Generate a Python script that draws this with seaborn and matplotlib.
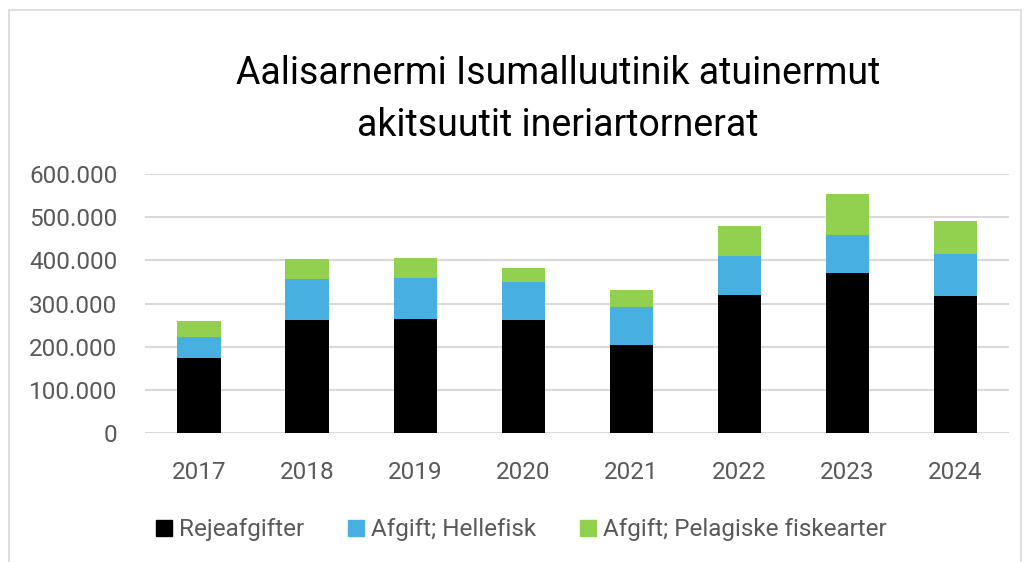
import matplotlib
matplotlib.use("Agg")
import matplotlib.pyplot as plt
import matplotlib.patches as mpatches
from matplotlib.ticker import FuncFormatter
import seaborn as sns
import pandas as pd
import numpy as np

years = ["2017", "2018", "2019", "2020", "2021", "2022", "2023", "2024"]
rejeafgifter = [175000, 263000, 264000, 261000, 204000, 319000, 370000, 318000]
hellefisk = [48000, 94000, 96000, 90000, 88000, 92000, 88000, 98000]
pelagiske = [36000, 47000, 45000, 31000, 40000, 69000, 95000, 75000]
series_names = ["Rejeafgifter", "Afgift; Hellefisk", "Afgift; Pelagiske fiskearter"]
colors = ["#000000", "#48B0E0", "#92D050"]
title = "Aalisarnermi Isumalluutinik atuinermut\nakitsuutit ineriartornerat"

sns.set_style("white")
plt.rcParams["font.family"] = ["Roboto", "DejaVu Sans"]
text_color = "#595959"

fig = plt.figure(figsize=(10.28, 5.62), dpi=100)
ax = fig.add_axes([0.141, 0.2295, 0.841, 0.4605])

df = pd.DataFrame({"year": years, "s1": rejeafgifter, "s2": hellefisk, "s3": pelagiske})
bottom = np.zeros(len(years))
for col, name, c in zip(["s1", "s2", "s3"], series_names, colors):
    sns.barplot(data=df, x="year", y=col, order=years, color=c, bottom=bottom,
                width=0.4, ax=ax, saturation=1, edgecolor="none", linewidth=0, zorder=3)
    bottom = bottom + df[col].values

ax.set_ylim(0, 600000)
ax.set_xlim(-0.5, len(years) - 0.5)
ax.set_yticks(np.arange(0, 600001, 100000))
ax.yaxis.set_major_formatter(FuncFormatter(lambda v, p: f"{int(v):,}".replace(",", ".")))
ax.grid(axis="y", color="#D9D9D9", linewidth=1.5, zorder=0)
ax.set_axisbelow(True)
for s in ax.spines.values():
    s.set_visible(False)
ax.set_xlabel("")
ax.set_ylabel("")
ax.tick_params(axis="both", length=0, labelsize=17.5, labelcolor=text_color, colors=text_color)
ax.tick_params(axis="y", pad=20)
ax.tick_params(axis="x", pad=20)

fig.text(0.543, 0.823, title, ha="center", va="center", fontsize=27, color="#000000",
         linespacing=1.52)

handles = [mpatches.Patch(color=c, label=n) for n, c in zip(series_names, colors)]
leg = fig.legend(handles=handles, loc="center left", bbox_to_anchor=(0.1518, 0.057), ncol=3,
                 frameon=False, fontsize=17.5, handlelength=0.65, handleheight=0.62,
                 handletextpad=0.3, columnspacing=1.8, borderpad=0, borderaxespad=0)
for t in leg.get_texts():
    t.set_color(text_color)

border = mpatches.Rectangle((9 / 1028, -0.05), 1012 / 1028, 1.05 - 10 / 562, transform=fig.transFigure,
                            fill=False, edgecolor="#D9D9D9", linewidth=1.2)
fig.patches.append(border)

fig.savefig("out.png", dpi=100)
